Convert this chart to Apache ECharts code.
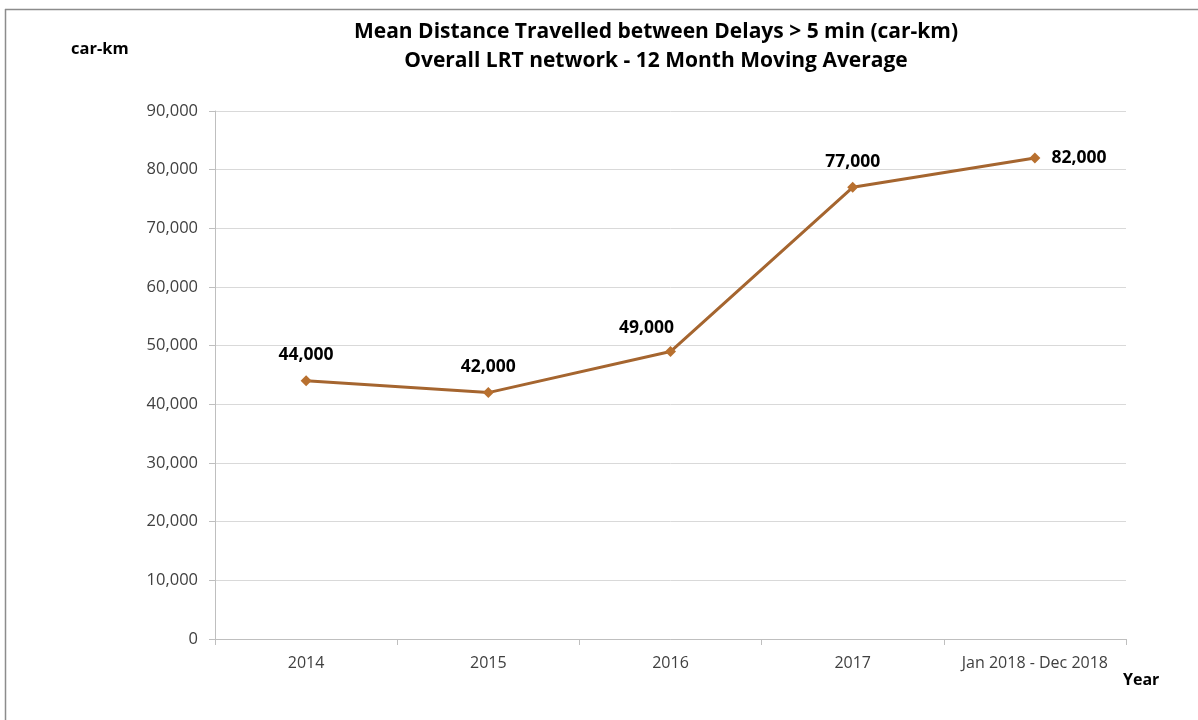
<!DOCTYPE html>
<html>
<head>
<meta charset="utf-8">
<script src="https://cdn.jsdelivr.net/npm/echarts@6/dist/echarts.min.js"></script>
<style>
html,body{margin:0;padding:0;background:#fff;}
#chart{width:1198px;height:720px;}
</style>
</head>
<body>
<div id="chart"></div>
<script>
const categories = ['2014', '2015', '2016', '2017', 'Jan 2018 - Dec 2018'];
const values = [44000, 42000, 49000, 77000, 82000];
const titleLines = ['Mean Distance Travelled between Delays > 5 min (car-km)', 'Overall LRT network - 12 Month Moving Average'];

const FONT = '"Open Sans", "Noto Sans", sans-serif';
const chart = echarts.init(document.getElementById('chart'));

const labelPos = ['top', 'top', 'top', 'top', 'right'];
const labelOffset = [[0, -6], [0, -6], [-24, -4], [0, -6], [6, 0]];

const option = {
  animation: false,
  backgroundColor: '#fff',
  title: {
    text: titleLines.join('\n'),
    left: 651, top: 13, textAlign: 'center',
    textStyle: { fontFamily: FONT, fontSize: 21, fontWeight: 'bold', color: '#000', lineHeight: 29 }
  },
  graphic: [
    { type: 'line', shape: { x1: 5, y1: 9.5, x2: 1198, y2: 9.5 }, style: { stroke: '#8c8c8c', lineWidth: 1.5 } },
    { type: 'line', shape: { x1: 5.5, y1: 9, x2: 5.5, y2: 720 }, style: { stroke: '#8c8c8c', lineWidth: 1.5 } },
    { type: 'text', left: 71, top: 41, style: { text: 'car-km', font: 'bold 16.5px ' + FONT, fill: '#000' } },
    { type: 'text', left: 1123, top: 672, style: { text: 'Year', font: 'bold 16px ' + FONT, fill: '#000' } }
  ],
  grid: { left: 215, right: 72, top: 111, bottom: 81 },
  xAxis: {
    type: 'category',
    data: categories,
    boundaryGap: true,
    axisLine: { lineStyle: { color: '#bfbfbf', width: 1 } },
    axisTick: { show: true, interval: 0, length: 6, lineStyle: { color: '#bfbfbf' } },
    axisLabel: { interval: 0, fontFamily: FONT, fontSize: 16, color: '#404040', margin: 16 }
  },
  yAxis: {
    type: 'value',
    min: 0, max: 90000, interval: 10000,
    axisLine: { show: true, lineStyle: { color: '#bfbfbf' } },
    axisTick: { show: true, length: 6, lineStyle: { color: '#bfbfbf' } },
    splitLine: { lineStyle: { color: '#d9d9d9' } },
    axisLabel: {
      fontFamily: FONT, fontSize: 16.5, color: '#404040', margin: 17,
      formatter: v => v.toLocaleString('en-US')
    }
  },
  series: [{
    type: 'line',
    data: values.map((v, i) => ({
      value: v,
      label: { position: labelPos[i], offset: labelOffset[i] }
    })),
    lineStyle: { color: '#a5652f', width: 3 },
    itemStyle: { color: '#b8702f' },
    symbol: 'diamond',
    symbolSize: 11,
    label: {
      show: true,
      fontFamily: FONT, fontSize: 17.5, fontWeight: 'bold', color: '#000',
      formatter: p => p.value.toLocaleString('en-US')
    }
  }]
};
chart.setOption(option);
</script>
</body>
</html>
